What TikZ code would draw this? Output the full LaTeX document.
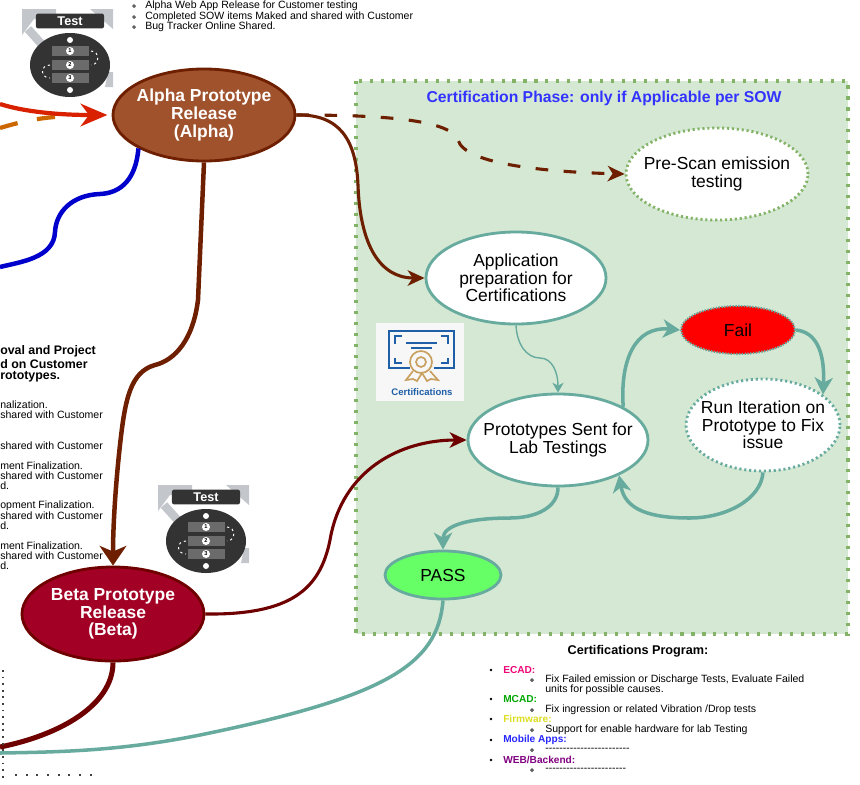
\documentclass[tikz,border=0pt]{standalone}
\usepackage{fontspec}
\setmainfont{Liberation Sans}
\usetikzlibrary{arrows.meta,shapes.geometric}
\definecolor{brownline}{HTML}{6D1F00}
\definecolor{redline}{HTML}{6F0000}
\definecolor{tealline}{HTML}{67AB9F}
\definecolor{phasefill}{HTML}{D5E8D4}
\definecolor{phaseline}{HTML}{82B366}
\definecolor{alphafill}{HTML}{A0522D}
\definecolor{betafill}{HTML}{A20025}
\definecolor{iconblue}{HTML}{1F5FA8}
\definecolor{icongold}{HTML}{C8A060}
\definecolor{icondark}{HTML}{333333}
\definecolor{icongray}{HTML}{C3C7CB}
\definecolor{firmwarecol}{HTML}{DDDD22}
\tikzset{
	stage/.style={ellipse, draw=tealline, fill=white, line width=2pt, inner sep=-20pt, align=center, font=\fontsize{12.4}{12.6}\selectfont},
	dotline/.style={dash pattern=on 1.6pt off 2.2pt},
	small/.style={anchor=west, inner sep=0pt, font=\fontsize{7.5}{8}\selectfont},
	head/.style={anchor=west, inner sep=0pt, font=\fontsize{7.2}{8}\selectfont\bfseries},
	bigtip/.style={-{Stealth[length=14pt,width=19pt,inset=4pt]}},
	redtip/.style={-{Stealth[length=19pt,width=16pt,inset=6pt]}},
	thintip/.style={-{Stealth[length=12pt,width=11pt,inset=3.5pt]}},
	tealflow/.style={draw=tealline, line width=2.5pt, -{Stealth[length=12pt,width=13pt,inset=3.5pt]}},
}
% one Test badge: #1 name, #2 centre of the round part
\def\testicon[#1](#2){
	\begin{scope}[shift={(#2)}]
		\fill[icongray] (-48,-56) -- (-14,-56) -- (-14,-46) -- (-36,-46) -- (-48,-30) -- cycle;
		\fill[icongray] (20,-56) -- (43,-56) -- (43,-36) -- cycle;
		\fill[icongray] (38,7) -- (43,7) -- (43,22) -- (35,22) -- cycle;
		\draw[icongray, line width=6pt] (-42,-36) -- (-24,-16);
		\fill[icondark] (0,0) ellipse (40 and 32);
		\node[rounded corners=1.5pt, fill=icondark, text=white, minimum width=1.7cm, minimum height=0.37cm, inner sep=0pt, font=\fontsize{9}{9}\selectfont\bfseries] (#1tag) at (0,-44) {Test};
		\foreach \row/\num in {-14/1, 0/2, 13/3}{
			\fill[black!58] (-18,\row-5) rectangle (19,\row+5);
			\node[circle, fill=white, inner sep=0pt, minimum size=0.2cm, font=\fontsize{4}{4}\selectfont\bfseries] (#1bar\num) at (0,\row) {\num};
		}
		\fill[white] (0,-25) circle (3);
		\fill[white] (0,25) circle (3);
		\draw[white, line width=0.7pt, dotline] (21,-14) .. controls (30,-14) and (30,0) .. (21,0);
		\draw[white, line width=0.7pt, dotline] (-20,0) .. controls (-30,0) and (-30,13) .. (-20,13);
	\end{scope}
}

\begin{document}
\begin{tikzpicture}[x=0.025cm, y=-0.025cm]
	\useasboundingbox (0,0) rectangle (860,784);

	%%%%% green phase %%%%%
	\draw[fill=phasefill, draw=phaseline, line width=2.2pt, dash pattern=on 2.2pt off 5.6pt] (356,81) rectangle (848,634);
	\node[inner sep=0pt, text=blue!80!white, font=\fontsize{11.2}{12}\selectfont\bfseries] (phasetitle) at (604,98) {Certification Phase: only if Applicable per SOW};

	%%%%% stages %%%%%
	\node[stage, draw=brownline, fill=alphafill, minimum width=4.55cm, minimum height=2.3cm, text=white, font=\fontsize{12.4}{12.6}\selectfont\bfseries] (alpha) at (204,115) {Alpha Prototype\\Release\\(Alpha)};
	\node[stage, draw=redline, fill=betafill, minimum width=4.55cm, minimum height=2.35cm, text=white, font=\fontsize{12.4}{12.6}\selectfont\bfseries] (beta) at (113,614) {Beta Prototype\\Release\\(Beta)};
	\node[stage, dash pattern=on 1.5pt off 2pt, draw=phaseline, minimum width=4.55cm, minimum height=2.3cm] (prescan) at (717,174) {Pre-Scan emission\\testing};
	\node[stage, minimum width=4.5cm, minimum height=2.3cm] (application) at (516,278) {Application\\preparation for\\Certifications};
	\node[stage, minimum width=4.5cm, minimum height=2.3cm] (labtest) at (558,440) {Prototypes Sent for\\Lab Testings};
	\node[stage, dash pattern=on 1pt off 1pt, line width=1.5pt, fill=red, minimum width=2.85cm, minimum height=1.2cm] (fail) at (738,330) {Fail};
	\node[stage, dash pattern=on 1.5pt off 2pt, minimum width=3.85cm, minimum height=2.3cm] (iteration) at (763,425) {Run Iteration on\\Prototype to Fix\\issue};
	\node[stage, fill=green!60!white, minimum width=2.9cm, minimum height=1.2cm] (pass) at (443,575) {PASS};

	%%%%% free ends %%%%%
	\coordinate (redend) at (0,104);
	\coordinate (orangeend) at (0,128);
	\coordinate (blueend) at (0,267);
	\coordinate (betaend) at (0,747);
	\coordinate (passend) at (0,753);

	%%%%% flows %%%%%
	\draw[draw=orange!80!black, line width=3pt, dash pattern=on 13pt off 14pt, shorten >=30pt] (orangeend) .. controls (20,122) and (40,117) .. (alpha.west);
	\draw[draw=red!70!orange!85!black, line width=3pt, redtip, shorten >=3pt] (redend) .. controls (25,112) and (60,115) .. (alpha.west);
	\draw[draw=blue!80!black, line width=3.2pt] (alpha.207) .. controls (136,178) and (122,193) .. (100,194) .. controls (72,195) and (56,212) .. (55,232) .. controls (54,258) and (20,262) .. (blueend);
	\draw[draw=brownline, line width=3.2pt, bigtip] (alpha.south) -- (198,300) .. controls (193,340) and (175,360) .. (155,365) .. controls (130,372) and (125,400) .. (120,445) .. controls (115,490) and (113,530) .. (beta.north);
	\draw[draw=brownline, line width=2.2pt, thintip] (alpha.east) .. controls (340,114) and (356,140) .. (358,185) .. controls (360,245) and (380,278) .. (application.west);
	\draw[draw=brownline, line width=2.2pt, thintip, dash pattern=on 9pt off 11pt] (alpha.east) .. controls (370,115) and (450,118) .. (458,140) .. controls (465,165) and (550,172) .. (prescan.west);
	\draw[draw=redline, line width=2.2pt, thintip] (beta.east) .. controls (290,615) and (320,590) .. (330,540) .. controls (342,470) and (400,440) .. (labtest.west);
	\draw[draw=redline, line width=3.6pt] (beta.south) .. controls (113,705) and (60,735) .. (betaend);
	\draw[draw=tealline, line width=2.5pt] (pass.south) .. controls (438,665) and (385,697) .. (200,735) .. controls (120,751) and (60,752) .. (passend);
	\draw[draw=tealline, line width=1pt, -{Stealth[length=7pt,width=8pt,inset=2pt]}] (application.south) .. controls (517,345) and (527,358) .. (540,358) .. controls (552,358) and (558,372) .. (labtest.north);
	\draw[tealflow] (labtest.27) .. controls (620,360) and (635,326) .. (fail.west);
	\draw[tealflow] (fail.east) .. controls (815,332) and (825,350) .. (iteration.27);
	\draw[tealflow] (iteration.south) .. controls (761,500) and (725,518) .. (690,518) .. controls (650,518) and (625,510) .. (labtest.-30);
	\draw[tealflow] (labtest.south) .. controls (558,508) and (535,518) .. (510,518) .. controls (470,518) and (443,525) .. (pass.north);

	%%%%% badges %%%%%
	\testicon[alphatest](70,65)
	\testicon[betatest](206,541)

	%%%%% certificate %%%%%
	\fill[black!3] (376,323) rectangle (464,401);
	\draw[iconblue, line width=1.8pt] (410,368) -- (389,368) -- (389,331) -- (454,331) -- (454,368) -- (434,368);
	\draw[iconblue, line width=1.2pt] (395,344) -- (395,336) -- (402,336);
	\draw[iconblue, line width=1.2pt] (448,344) -- (448,336) -- (441,336);
	\draw[iconblue, line width=1.2pt] (395,358) -- (395,363) -- (402,363);
	\draw[iconblue, line width=1.2pt] (448,358) -- (448,363) -- (441,363);
	\draw[iconblue, line width=1.3pt] (406,343) -- (437,343);
	\draw[iconblue, line width=1.3pt] (411,348) -- (432,348);
	\draw[icongold, line width=1.2pt] (421,362) circle (11);
	\draw[icongold, line width=1.2pt] (421,362) circle (5);
	\draw[icongold, line width=1.2pt] (413,371) -- (406,380) -- (413,379) -- (417,381) -- (422,373) -- (427,381) -- (431,379) -- (438,380) -- (430,371);
	\node[inner sep=0pt, text=iconblue, font=\fontsize{6.8}{7}\selectfont\bfseries] (certlabel) at (422,392) {Certifications};

	%%%%% top notes %%%%%
	\foreach \ypos/\txt [count=\i] in {6/Alpha Web App Release for Customer testing, 17/Completed SOW items Maked and shared with Customer, 27/Bug Tracker Online Shared.}{
		\draw[fill=black!50, draw=black!70, line width=0.5pt] (134,\ypos) circle (1.5);
		\node[small] (alphanote\i) at (145,\ypos) {\txt};
	}

	%%%%% left notes, cut by the page %%%%%
	\foreach \ypos/\txt [count=\i] in {351/oval and Project, 364/d on Customer, 377/rototypes.}{
		\node[head, font=\fontsize{8.8}{9}\selectfont\bfseries] (betahead\i) at (0,\ypos) {\txt};
	}
	\foreach \ypos/\txt [count=\i] in {405/nalization., 415/shared with Customer, 446/shared with Customer, 466/ment Finalization., 476/shared with Customer, 486/d., 506/opment Finalization., 516/shared with Customer, 526/d., 546/ment Finalization., 556/shared with Customer, 566/d.}{
		\node[small] (betanote\i) at (0,\ypos) {\txt};
	}

	%%%%% dotted box corner %%%%%
	\draw[black!75, line width=1.3pt, dash pattern=on 1.3pt off 3.4pt] (3,670) -- (3,778);
	\draw[black!75, line width=1.3pt, dash pattern=on 1.3pt off 6.3pt] (15,775) -- (97,775);

	%%%%% program list %%%%%
	\node[inner sep=0pt, font=\fontsize{9}{9}\selectfont\bfseries] (programtitle) at (638,651) {Certifications Program:};
	\foreach \ypos/\txt/\col [count=\i] in {670/ECAD:/magenta!80!red, 699/MCAD:/green!65!black, 719/Firmware:/firmwarecol, 740/Mobile Apps:/blue!85!white, 760/WEB\slash Backend:/violet}{
		\fill (491,\ypos) circle (1.4);
		\node[head, text=\col] (programitem\i) at (503,\ypos) {\txt};
	}
	\foreach \ypos in {680,710,730,750,770}{
		\draw[fill=black!50, draw=black!70, line width=0.5pt] (532,\ypos) circle (1.5);
	}
	\node[small] (programnote1) at (545,680) {Fix Failed emission or Discharge Tests, Evaluate Failed};
	\node[small] (programnote2) at (545,690) {units for possible causes.};
	\node[small] (programnote3) at (545,710) {Fix ingression or related Vibration /Drop tests};
	\node[small] (programnote4) at (545,730) {Support for enable hardware for lab Testing};
	\node[small] (programnote5) at (545,750) {-{}-{}-{}-{}-{}-{}-{}-{}-{}-{}-{}-{}-{}-{}-{}-{}-{}-{}-{}-{}-{}-{}-{}-{}};
	\node[small] (programnote6) at (545,770) {-{}-{}-{}-{}-{}-{}-{}-{}-{}-{}-{}-{}-{}-{}-{}-{}-{}-{}-{}-{}-{}-{}-{}};
\end{tikzpicture}
\end{document}
